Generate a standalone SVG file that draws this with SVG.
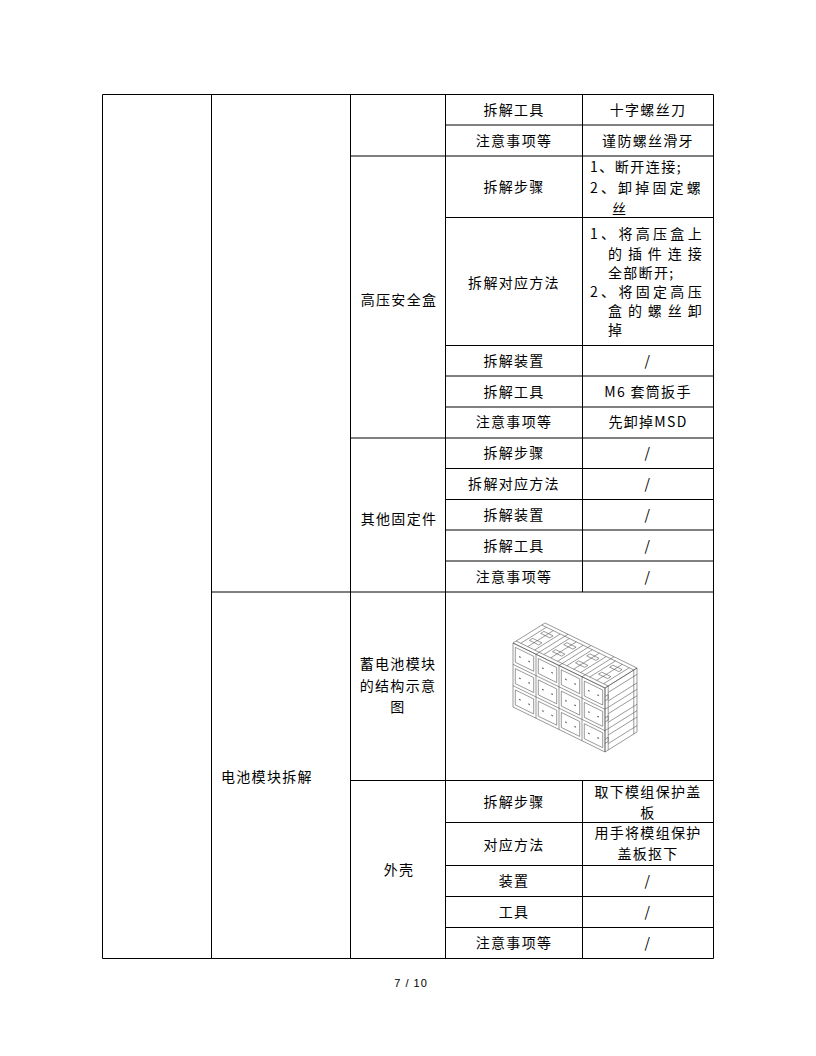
<svg xmlns="http://www.w3.org/2000/svg" width="816" height="1056" viewBox="0 0 816 1056">
<style>
.t{font-family:"Noto Sans CJK SC","Noto Sans",sans-serif;font-size:14px;fill:#000;letter-spacing:1.3px}
.c{text-anchor:middle}
.f{font-family:"Liberation Sans",sans-serif;font-size:11px;fill:#000;letter-spacing:1px;text-anchor:middle}
#grid line{stroke:#000;stroke-width:1}
.bat{fill:none;stroke:#555;stroke-width:0.6;vector-effect:non-scaling-stroke}
.dot{fill:#444}
</style>
<rect width="816" height="1056" fill="#fff"/>
<g id="grid">
<line x1="102.5" y1="94.5" x2="713.5" y2="94.5"/>
<line x1="445.5" y1="125" x2="713.5" y2="125"/>
<line x1="350.5" y1="156" x2="713.5" y2="156"/>
<line x1="445.5" y1="217.5" x2="713.5" y2="217.5"/>
<line x1="445.5" y1="345.5" x2="713.5" y2="345.5"/>
<line x1="445.5" y1="376" x2="713.5" y2="376"/>
<line x1="445.5" y1="407" x2="713.5" y2="407"/>
<line x1="350.5" y1="438" x2="713.5" y2="438"/>
<line x1="445.5" y1="468.5" x2="713.5" y2="468.5"/>
<line x1="445.5" y1="499.5" x2="713.5" y2="499.5"/>
<line x1="445.5" y1="530" x2="713.5" y2="530"/>
<line x1="445.5" y1="561" x2="713.5" y2="561"/>
<line x1="211.5" y1="592" x2="713.5" y2="592"/>
<line x1="350.5" y1="780.5" x2="713.5" y2="780.5"/>
<line x1="445.5" y1="822.5" x2="713.5" y2="822.5"/>
<line x1="445.5" y1="865.5" x2="713.5" y2="865.5"/>
<line x1="445.5" y1="896.5" x2="713.5" y2="896.5"/>
<line x1="445.5" y1="927.5" x2="713.5" y2="927.5"/>
<line x1="102.5" y1="958.5" x2="713.5" y2="958.5"/>
<line x1="102.5" y1="94.5" x2="102.5" y2="958.5"/>
<line x1="211.5" y1="94.5" x2="211.5" y2="958.5"/>
<line x1="350.5" y1="94.5" x2="350.5" y2="958.5"/>
<line x1="445.5" y1="94.5" x2="445.5" y2="958.5"/>
<line x1="582.5" y1="94.5" x2="582.5" y2="592"/>
<line x1="582.5" y1="780.5" x2="582.5" y2="958.5"/>
<line x1="713.5" y1="94.5" x2="713.5" y2="958.5"/>
</g>

<g id="col2">
<text class="t" x="221" y="782">电池模块拆解</text>
</g>

<g id="col3">
<text class="t c" x="399" y="305">高压安全盒</text>
<text class="t c" x="399" y="524">其他固定件</text>
<text class="t c" x="398" y="669">蓄电池模块</text>
<text class="t c" x="398" y="691">的结构示意</text>
<text class="t c" x="398" y="712">图</text>
<text class="t c" x="399" y="875">外壳</text>
</g>

<g id="col4">
<text class="t c" x="514" y="115">拆解工具</text>
<text class="t c" x="514" y="145.5">注意事项等</text>
<text class="t c" x="514" y="192">拆解步骤</text>
<text class="t c" x="514" y="287.5">拆解对应方法</text>
<text class="t c" x="514" y="366">拆解装置</text>
<text class="t c" x="514" y="396.5">拆解工具</text>
<text class="t c" x="514" y="427">注意事项等</text>
<text class="t c" x="514" y="458">拆解步骤</text>
<text class="t c" x="514" y="489">拆解对应方法</text>
<text class="t c" x="514" y="520">拆解装置</text>
<text class="t c" x="514" y="550.5">拆解工具</text>
<text class="t c" x="514" y="581.5">注意事项等</text>
<text class="t c" x="514" y="807">拆解步骤</text>
<text class="t c" x="514" y="850">对应方法</text>
<text class="t c" x="514" y="886">装置</text>
<text class="t c" x="514" y="917">工具</text>
<text class="t c" x="514" y="948">注意事项等</text>
</g>

<g id="col5">
<text class="t c" x="648" y="115">十字螺丝刀</text>
<text class="t c" x="648" y="145.5">谨防螺丝滑牙</text>
<text class="t" x="590" y="172" textLength="92" lengthAdjust="spacing">1、断开连接;</text>
<text class="t" x="590" y="193" textLength="112" lengthAdjust="spacing">2、卸掉固定螺</text>
<text class="t" x="612" y="214">丝</text>
<text class="t" x="590" y="239" textLength="113" lengthAdjust="spacing">1、将高压盒上</text>
<text class="t" x="608" y="258.5" textLength="95" lengthAdjust="spacing">的插件连接</text>
<text class="t" x="608" y="278">全部断开;</text>
<text class="t" x="590" y="297" textLength="113" lengthAdjust="spacing">2、将固定高压</text>
<text class="t" x="608" y="316" textLength="95" lengthAdjust="spacing">盒的螺丝卸</text>
<text class="t" x="608" y="334.5">掉</text>
<text class="t c" x="648" y="366">/</text>
<text class="t c" x="648" y="396.5">M6 套筒扳手</text>
<text class="t c" x="648" y="427">先卸掉MSD</text>
<text class="t c" x="648" y="458">/</text>
<text class="t c" x="648" y="489">/</text>
<text class="t c" x="648" y="520">/</text>
<text class="t c" x="648" y="550.5">/</text>
<text class="t c" x="648" y="581.5">/</text>
<text class="t c" x="648" y="797">取下模组保护盖</text>
<text class="t c" x="648" y="817.5">板</text>
<text class="t c" x="648" y="838">用手将模组保护</text>
<text class="t c" x="648" y="858.5">盖板抠下</text>
<text class="t c" x="648" y="886">/</text>
<text class="t c" x="648" y="917">/</text>
<text class="t c" x="648" y="948">/</text>
</g>

<g id="battery-image">
<g transform="matrix(23 11.25 32 -20 513 643)">
<rect class="bat" x="0" y="0" width="4" height="1"/>
<path class="bat" d="M0,0.1H4M0,0.9H4M0.2,0.1V0.9M0.5,0.1V0.9M0.8,0.1V0.9M1.2,0.1V0.9M1.5,0.1V0.9M1.8,0.1V0.9M2.2,0.1V0.9M2.5,0.1V0.9M2.8,0.1V0.9M3.2,0.1V0.9M3.5,0.1V0.9M3.8,0.1V0.9M1,0V1M2,0V1M3,0V1"/>
<path class="bat" d="M0.3,0.3h0.4v0.1h-0.4zM1.3,0.3h0.4v0.1h-0.4zM2.3,0.3h0.4v0.1h-0.4zM3.3,0.3h0.4v0.1h-0.4zM0.3,0.65h0.4v0.1h-0.4zM1.3,0.65h0.4v0.1h-0.4zM2.3,0.65h0.4v0.1h-0.4zM3.3,0.65h0.4v0.1h-0.4z"/>
</g>
<g transform="matrix(32 -20 0 21.333 605 688)">
<rect class="bat" x="0" y="0" width="1" height="3"/>
<path class="bat" d="M0,1H1M0,2H1M0.1,0.3H1M0.1,0.7H1M0.1,1.3H1M0.1,1.7H1M0.1,2.3H1M0.1,2.7H1M0.1,0V3M0.9,0V3"/>
<path class="bat" d="M0,0.4h0.1v0.2h-0.1M0,1.4h0.1v0.2h-0.1M0,2.4h0.1v0.2h-0.1"/>
</g>
<g transform="matrix(23 11.25 0 21.333 513 643)">
<rect class="bat" x="0" y="0" width="4" height="3"/>
<path class="bat" d="M1,0V3M2,0V3M3,0V3M0,1H4M0,2H4"/>
<path class="bat" d="M0.1,0.15h0.8v0.7h-0.8zM1.1,0.15h0.8v0.7h-0.8zM2.1,0.15h0.8v0.7h-0.8zM3.1,0.15h0.8v0.7h-0.8zM0.1,1.15h0.8v0.7h-0.8zM1.1,1.15h0.8v0.7h-0.8zM2.1,1.15h0.8v0.7h-0.8zM3.1,1.15h0.8v0.7h-0.8zM0.1,2.15h0.8v0.7h-0.8zM1.1,2.15h0.8v0.7h-0.8zM2.1,2.15h0.8v0.7h-0.8zM3.1,2.15h0.8v0.7h-0.8z"/>
<path class="dot" d="M0.27,0.47h0.06v0.06h-0.06zM0.67,0.47h0.06v0.06h-0.06zM1.27,0.47h0.06v0.06h-0.06zM1.67,0.47h0.06v0.06h-0.06zM2.27,0.47h0.06v0.06h-0.06zM2.67,0.47h0.06v0.06h-0.06zM3.27,0.47h0.06v0.06h-0.06zM3.67,0.47h0.06v0.06h-0.06zM0.27,1.47h0.06v0.06h-0.06zM0.67,1.47h0.06v0.06h-0.06zM1.27,1.47h0.06v0.06h-0.06zM1.67,1.47h0.06v0.06h-0.06zM2.27,1.47h0.06v0.06h-0.06zM2.67,1.47h0.06v0.06h-0.06zM3.27,1.47h0.06v0.06h-0.06zM3.67,1.47h0.06v0.06h-0.06zM0.27,2.47h0.06v0.06h-0.06zM0.67,2.47h0.06v0.06h-0.06zM1.27,2.47h0.06v0.06h-0.06zM1.67,2.47h0.06v0.06h-0.06zM2.27,2.47h0.06v0.06h-0.06zM2.67,2.47h0.06v0.06h-0.06zM3.27,2.47h0.06v0.06h-0.06zM3.67,2.47h0.06v0.06h-0.06z"/>
</g>
</g>

<g id="footer">
<text class="f" x="411" y="987">7 / 10</text>
</g>
</svg>
